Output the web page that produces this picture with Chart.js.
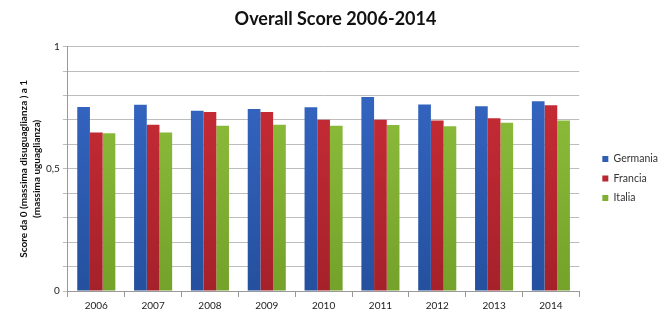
<!DOCTYPE html>
<html>
<head>
<meta charset="utf-8">
<script src="https://cdn.jsdelivr.net/npm/chart.js@4"></script>
<style>
  html, body { margin: 0; padding: 0; background: #fff; }
  #wrap { width: 660px; height: 317px; }
</style>
</head>
<body>
<div id="wrap"><canvas id="chart" width="660" height="317"></canvas></div>
<script>
// dati
var anni = ['2006', '2007', '2008', '2009', '2010', '2011', '2012', '2013', '2014'];
var germania = [0.753, 0.762, 0.738, 0.745, 0.752, 0.794, 0.763, 0.756, 0.776];
var francia  = [0.649, 0.680, 0.732, 0.732, 0.701, 0.701, 0.698, 0.707, 0.760];
var italia   = [0.645, 0.649, 0.676, 0.680, 0.676, 0.679, 0.674, 0.688, 0.698];
var yLabels = { 0: '0', 0.5: '0,5', 1: '1' };

// gradient verticale stile Excel
function grad(top, bottom) {
    return function(ctx) {
        var c = ctx.chart, area = c.chartArea;
        if (!area) return bottom;
        var g = c.ctx.createLinearGradient(0, area.top, 0, area.bottom);
        g.addColorStop(0, top);
        g.addColorStop(1, bottom);
        return g;
    };
}

// sposta la legenda un po' a destra e in basso, come nell'originale
var legendShift = {
    id: 'legendShift',
    afterLayout: function(chart) {
        var l = chart.legend;
        if (!l) return;
        l.left += 14; l.right += 14;
        l.top += 18; l.bottom += 18;
    }
};

var font = "Lato, 'Liberation Sans', sans-serif";

new Chart(document.getElementById('chart'), {
    type: 'bar',
    data: {
        labels: anni,
        datasets: [
            { label: 'Germania', data: germania, backgroundColor: grad('#3769c8', '#24509e') },
            { label: 'Francia', data: francia, backgroundColor: grad('#cf2e38', '#a5212a') },
            { label: 'Italia', data: italia, backgroundColor: grad('#94c340', '#74a22a') }
        ]
    },
    plugins: [legendShift],
    options: {
        responsive: false,
        animation: false,
        datasets: { bar: { categoryPercentage: 0.67, barPercentage: 1 } },
        layout: { padding: { left: 17, right: 6, top: 6, bottom: 2 } },
        plugins: {
            title: {
                display: true,
                text: 'Overall Score 2006-2014',
                color: '#111',
                font: { family: font, size: 18, weight: 'bold' },
                padding: { top: 2, bottom: 17 }
            },
            legend: {
                position: 'right',
                labels: {
                    boxWidth: 6, boxHeight: 6, padding: 9,
                    color: '#333',
                    font: { family: font, size: 10.5 }
                }
            },
            tooltip: { enabled: false }
        },
        scales: {
            x: {
                grid: { drawOnChartArea: false, tickLength: 6, color: '#999' },
                border: { color: '#999' },
                ticks: { color: '#222', font: { family: font, size: 10 }, padding: 3 }
            },
            y: {
                min: 0, max: 1,
                ticks: {
                    stepSize: 0.1,
                    color: '#222',
                    font: { family: font, size: 10 },
                    padding: 3,
                    callback: function(v) {
                        var k = Math.round(v * 10) / 10;
                        return yLabels[k] !== undefined ? yLabels[k] : '';
                    }
                },
                grid: { color: '#bdbdbd', tickLength: 5 },
                border: { color: '#999' },
                title: {
                    display: true,
                    text: ['Score da 0 (massima disuguaglianza ) a 1', '(massima uguaglianza)'],
                    color: '#111',
                    font: { family: font, size: 10, weight: 'bold', lineHeight: 1.3 },
                    padding: { top: 0, bottom: 0 }
                }
            }
        }
    }
});
</script>
</body>
</html>
